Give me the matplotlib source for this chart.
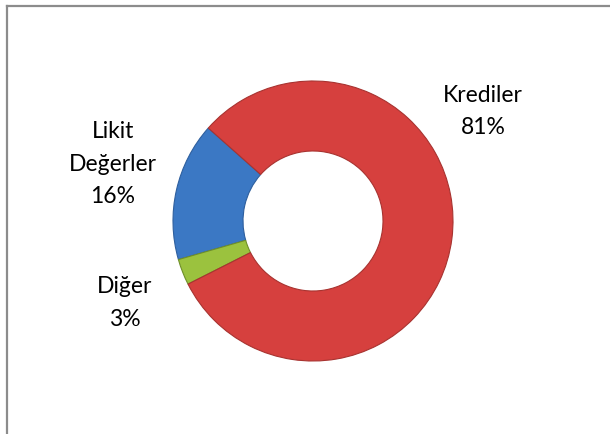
import matplotlib
matplotlib.use("Agg")
import matplotlib.pyplot as plt
from matplotlib.lines import Line2D

plt.rcParams['font.family'] = ['Lato', 'DejaVu Sans']

# Data
categories = ['Krediler', 'Likit Değerler', 'Diğer']
label_lines = [['Krediler'], ['Likit', 'Değerler'], ['Diğer']]
values = [81, 16, 3]
colors = ['#D6403E', '#3B78C4', '#9BC23E']
edge_colors = ['#A83330', '#2E5F9E', '#6F8F2A']

W, H = 610, 434
fig = plt.figure(figsize=(W / 100, H / 100), dpi=100)
ax = fig.add_axes([0, 0, 1, 1])
ax.set_xlim(0, W)
ax.set_ylim(0, H)
ax.set_aspect('equal')
ax.axis('off')

# counter-clockwise drawing order: Likit, Diğer, Krediler
order = [1, 2, 0]
cx, cy = 313, H - 221
R = 140
wedges, _ = ax.pie([values[i] for i in order],
                   colors=[colors[i] for i in order],
                   startangle=138.4, counterclock=True,
                   center=(cx, cy), radius=R, frame=True,
                   wedgeprops=dict(width=70, linewidth=0.8))
for w, i in zip(wedges, order):
    w.set_edgecolor(edge_colors[i])
ax.set_xlim(0, W)
ax.set_ylim(0, H)
ax.axis('off')

# Labels: (center x, first baseline y in pixel-from-top)
label_pos = {0: (483, 101.7), 1: (112.8, 138.3), 2: (125, 293.3)}
line_gap = 32.5
fs = 16.5
for i, name in enumerate(categories):
    lines = label_lines[i] + [f"{values[i]}%"]
    x, y0 = label_pos[i]
    for k, line in enumerate(lines):
        ax.text(x, H - (y0 + k * line_gap), line, ha='center', va='baseline',
                fontsize=fs, color='#000000')

# Chart-area border (left and top visible)
fig.add_artist(Line2D([7 / W, 7 / W], [0, 1 - 6 / H], transform=fig.transFigure,
                      color='#8C8C8C', linewidth=1.6))
fig.add_artist(Line2D([7 / W, 1], [1 - 6 / H, 1 - 6 / H], transform=fig.transFigure,
                      color='#8C8C8C', linewidth=1.6))

fig.savefig('out.png', dpi=100, facecolor='white')
